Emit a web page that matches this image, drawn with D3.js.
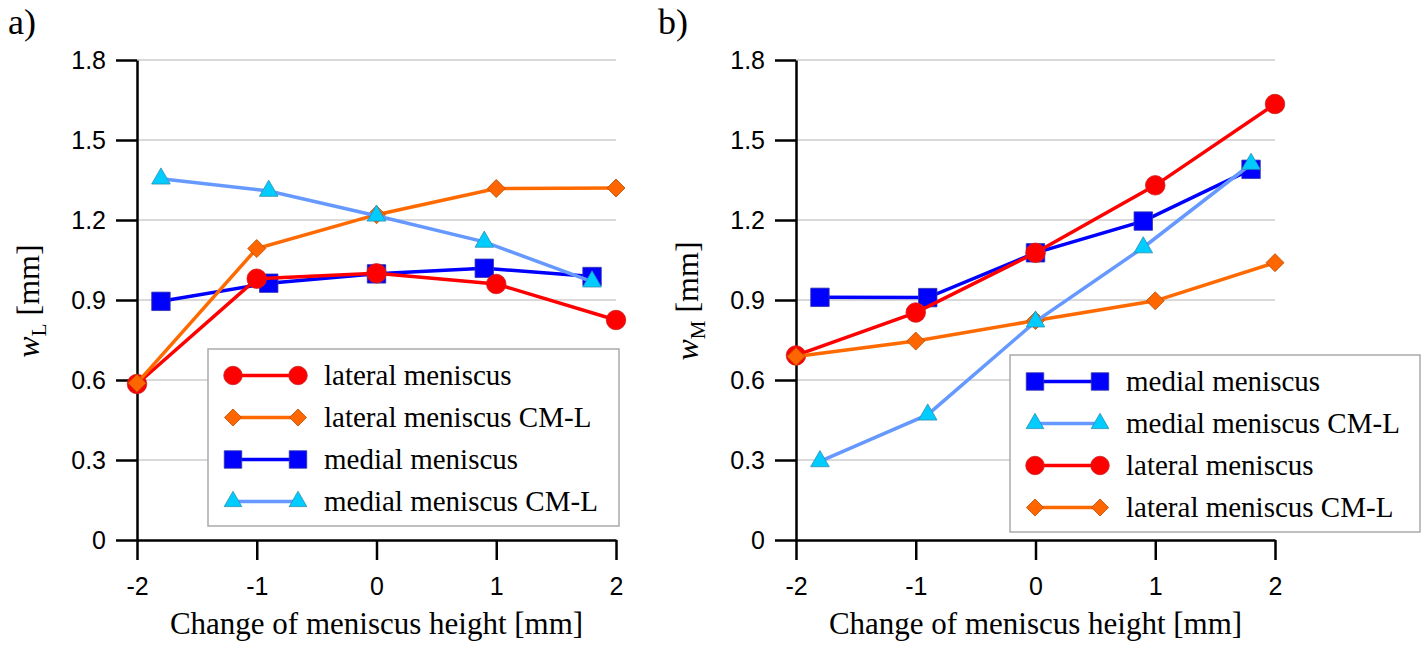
<!doctype html>
<html>
<head>
<meta charset="UTF-8">
<title>Meniscus width</title>
<style>
  body { margin: 0; background: #fff; }
  svg { display: block; }
  .serif { font-family: "Liberation Serif", "Times New Roman", serif; fill: #000; }
</style>
</head>
<body>
<svg id="chart" width="1422" height="645"></svg>
<script src="https://d3js.org/d3.v7.min.js"></script>
<script>
// x positions: lateral series at integer steps, medial ones at 0.9 steps
const xLateral = [-2, -1, 0, 1, 2];
const xMedial = [-1.8, -0.9, 0, 0.9, 1.8];

// panel a) w_L
const latA = [0.585, 0.98, 1.0, 0.96, 0.825];
const latCmlA = [0.588, 1.093, 1.22, 1.318, 1.32];
const medA = [0.895, 0.963, 0.998, 1.019, 0.988];
const medCmlA = [1.355, 1.309, 1.216, 1.118, 0.969];

// panel b) w_M
const medB = [0.91, 0.909, 1.077, 1.196, 1.39];
const medCmlB = [0.295, 0.47, 0.819, 1.097, 1.41];
const latB = [0.692, 0.853, 1.077, 1.33, 1.635];
const latCmlB = [0.688, 0.746, 0.823, 0.897, 1.04];

const yTicks = [0, 0.3, 0.6, 0.9, 1.2, 1.5, 1.8];
const xTicks = [-2, -1, 0, 1, 2];

const names = {
  lat: "lateral meniscus",
  latCml: "lateral meniscus CM-L",
  med: "medial meniscus",
  medCml: "medial meniscus CM-L"
};

// diamond = square turned 45 deg
const diamond = {
  draw(ctx, size) {
    const r = Math.sqrt(size / 2);
    ctx.moveTo(0, -r); ctx.lineTo(r, 0); ctx.lineTo(0, r); ctx.lineTo(-r, 0); ctx.closePath();
  }
};

const styles = {
  med:    { line: "#0000ff", fill: "#0000ff", stroke: "#3333aa", type: d3.symbolSquare, size: 340 },
  lat:    { line: "#ff0000", fill: "#ff0000", stroke: "#cc2222", type: d3.symbolCircle, size: 300 },
  latCml: { line: "#ff6a00", fill: "#ff6600", stroke: "#b34a00", type: diamond, size: 162 },
  medCml: { line: "#6699ff", fill: "#00ccff", stroke: "#2a8fb0", type: d3.symbolTriangle, size: 150 }
};

const svg = d3.select("#chart");

function drawPanel(cfg) {
  const x = d3.scaleLinear().domain([-2, 2]).range([cfg.x0, cfg.x0 + 479]);
  const y = d3.scaleLinear().domain([0, 1.8]).range([540, 60]);
  const g = svg.append("g");

  // grid
  g.selectAll(".grid").data(yTicks.slice(1)).join("line")
    .attr("x1", x(-2)).attr("x2", x(2))
    .attr("y1", d => y(d)).attr("y2", d => y(d))
    .attr("stroke", "#b3b3b3").attr("stroke-width", 1);

  const yAxis = g.append("g").attr("transform", `translate(${x(-2)},0)`)
    .call(d3.axisLeft(y).tickValues(yTicks).tickSize(21).tickSizeOuter(0).tickPadding(10)
      .tickFormat(d => d === 0 ? "0" : d3.format(".1f")(d)));
  const xAxis = g.append("g").attr("transform", `translate(0,${y(0)})`)
    .call(d3.axisBottom(x).tickValues(xTicks).tickSize(20).tickSizeOuter(0).tickPadding(17)
      .tickFormat(d => String(d)));
  [yAxis, xAxis].forEach(a => {
    a.attr("font-family", "'Liberation Sans', Arial, sans-serif").attr("font-size", 25);
    a.select(".domain").attr("stroke", "#000").attr("stroke-width", 2.5);
    a.selectAll(".tick line").attr("stroke", "#000").attr("stroke-width", 2.5);
    a.selectAll(".tick text").attr("fill", "#000");
  });

  // series
  const line = d3.line().x(d => x(d[0])).y(d => y(d[1]));
  cfg.series.forEach(s => {
    const st = styles[s.key];
    const pts = s.xs.map((v, i) => [v, s.vals[i]]);
    g.append("path").datum(pts).attr("d", line)
      .attr("fill", "none").attr("stroke", st.line).attr("stroke-width", 3.5);
    g.selectAll(null).data(pts).join("path")
      .attr("transform", d => `translate(${x(d[0])},${y(d[1])})`)
      .attr("d", d3.symbol().type(st.type).size(st.size))
      .attr("fill", st.fill).attr("stroke", st.stroke).attr("stroke-width", 0.8);
  });

  // legend
  const lg = g.append("g").attr("transform", `translate(${cfg.legend[0]},${cfg.legend[1]})`);
  lg.append("rect").attr("width", cfg.legend[2]).attr("height", 177)
    .attr("fill", "#fff").attr("stroke", "#aaaaaa").attr("stroke-width", 1.5);
  cfg.legendOrder.forEach((k, i) => {
    const st = styles[k];
    const row = lg.append("g").attr("transform", `translate(0,${26.5 + i * 42})`);
    row.append("line").attr("x1", 25).attr("x2", 90)
      .attr("stroke", st.line).attr("stroke-width", 3.5);
    [25, 90].forEach(px => row.append("path").attr("transform", `translate(${px},0)`)
      .attr("d", d3.symbol().type(st.type).size(st.size * 0.9))
      .attr("fill", st.fill).attr("stroke", st.stroke).attr("stroke-width", 0.8));
    row.append("text").attr("class", "serif").attr("x", 116).attr("y", 9)
      .style("font-size", "29px").text(names[k]);
  });

  // titles
  g.append("text").attr("class", "serif").attr("x", x(0)).attr("y", 634)
    .attr("text-anchor", "middle").style("font-size", "31px")
    .text("Change of meniscus height [mm]");
  const yt = g.append("text").attr("class", "serif")
    .attr("transform", `translate(${cfg.x0 - 98},301) rotate(-90)`)
    .attr("text-anchor", "middle").style("font-size", "32px");
  yt.append("tspan").style("font-style", "italic").text("w");
  yt.append("tspan").attr("dy", 7).style("font-size", "21px").text(cfg.sub);
  yt.append("tspan").attr("dy", -7).text(" [mm]");

  g.append("text").attr("class", "serif").attr("x", cfg.labelX).attr("y", 34)
    .style("font-size", "36px").text(cfg.label);
}

drawPanel({
  x0: 137, label: "a)", labelX: 8, sub: "L",
  series: [
    { key: "med", xs: xMedial, vals: medA },
    { key: "lat", xs: xLateral, vals: latA },
    { key: "latCml", xs: xLateral, vals: latCmlA },
    { key: "medCml", xs: xMedial, vals: medCmlA }
  ],
  legend: [208, 349, 411],
  legendOrder: ["lat", "latCml", "med", "medCml"]
});

drawPanel({
  x0: 796, label: "b)", labelX: 658, sub: "M",
  series: [
    { key: "med", xs: xMedial, vals: medB },
    { key: "lat", xs: xLateral, vals: latB },
    { key: "latCml", xs: xLateral, vals: latCmlB },
    { key: "medCml", xs: xMedial, vals: medCmlB }
  ],
  legend: [1010, 355, 410],
  legendOrder: ["med", "medCml", "lat", "latCml"]
});
</script>
</body>
</html>
